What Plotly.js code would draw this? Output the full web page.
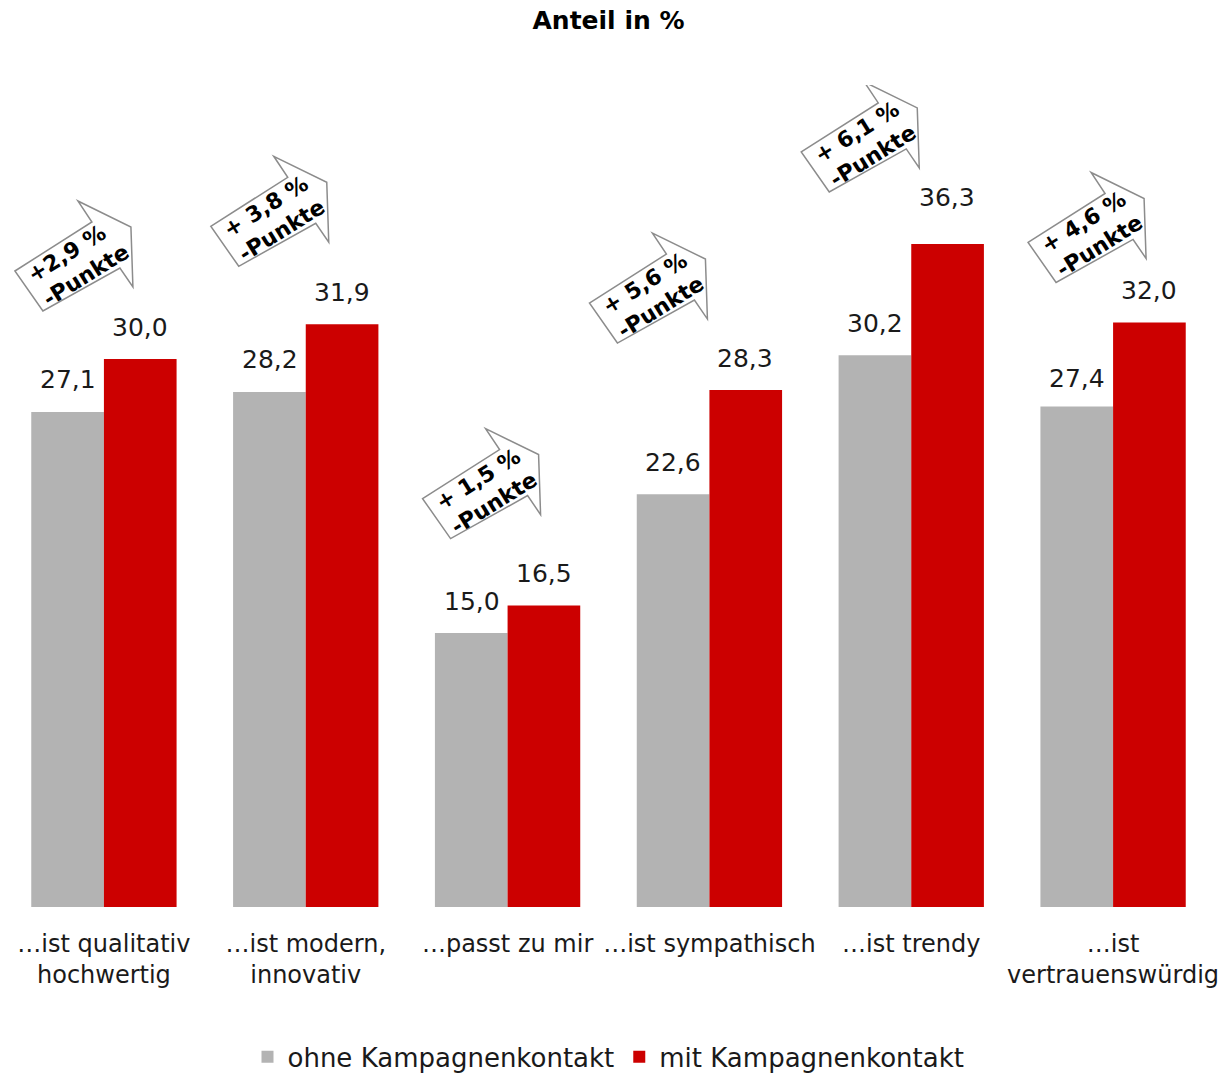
<!DOCTYPE html>
<html>
<head>
<meta charset="utf-8">
<script src="https://cdn.plot.ly/plotly-3.0.1.min.js"></script>
<style>html,body{margin:0;padding:0;background:#fff;}#chart{width:1227px;height:1074px;}</style>
</head>
<body>
<div id="chart"></div>
<script>
// ---- data ----
var categories = ["…ist qualitativ<br>hochwertig", "…ist modern,<br>innovativ", "…passt zu mir", "…ist sympathisch", "…ist trendy", "…ist<br>vertrauenswürdig"];
var ohneValues = [27.1, 28.2, 15.0, 22.6, 30.2, 27.4];
var mitValues = [30.0, 31.9, 16.5, 28.3, 36.3, 32.0];
var diffLabels = ["+2,9 %", "+ 3,8 %", "+ 1,5 %", "+ 5,6 %", "+ 6,1 %", "+ 4,6 %"];
var seriesNames = ["ohne Kampagnenkontakt", "mit Kampagnenkontakt"];

// ---- style / placement ----
var FONT = "DejaVu Sans, Verdana, sans-serif";
var GRAY = "#b3b3b3", RED = "#cc0000";
var idx = categories.map(function (c, i) { return i; });
function fmt(v) { return v.toFixed(1).replace(".", ","); }

// arrow head-barb offsets relative to top-centre of red bar (pixels, screen coords)
var arrowOffsets = [[-26, -158], [-32, -168], [-22, -177], [-57, -157], [-47, -162], [-22, -150]];
// extra lift for some value labels (pixels)
var redLift = [0, 0, 0, 0, 14, 0];
var grayLift = [0, 0, 0, 0, 0, -4];

// canonical arrow outline relative to barb point A (screen coords, y down)
var arrowPts = [[-63, 70], [14, 21], [0, 0], [53, 26], [55, 86], [42, 67], [-35, 110]];

var traces = [
  { type: "bar", name: seriesNames[0], x: idx, y: ohneValues, marker: { color: GRAY }, hoverinfo: "none" },
  { type: "bar", name: seriesNames[1], x: idx, y: mitValues, marker: { color: RED }, hoverinfo: "none" }
];

var annotations = [];
var shapes = [];
var HALF = 36;
idx.forEach(function (i) {
  annotations.push({ xref: "x", yref: "y", x: i, y: ohneValues[i], text: fmt(ohneValues[i]), showarrow: false,
    xshift: -HALF, yshift: 32 + grayLift[i], yanchor: "middle", font: { family: FONT, size: 25, color: "#1a1a1a" } });
  annotations.push({ xref: "x", yref: "y", x: i, y: mitValues[i], text: fmt(mitValues[i]), showarrow: false,
    xshift: HALF, yshift: 32 + redLift[i], yanchor: "middle", font: { family: FONT, size: 25, color: "#1a1a1a" } });

  var off = arrowOffsets[i];
  var path = arrowPts.map(function (p, k) {
    return (k === 0 ? "M" : "L") + (off[0] + p[0]) + "," + (-(off[1] + p[1]));
  }).join(" ") + " Z";
  shapes.push({ type: "path", xref: "x", yref: "y", xsizemode: "pixel", ysizemode: "pixel",
    xanchor: i, yanchor: mitValues[i], path: path, fillcolor: "#ffffff",
    line: { color: "#8c8c8c", width: 1.5 }, layer: "above" });
  annotations.push({ xref: "x", yref: "y", x: i, y: mitValues[i], text: "<b>" + diffLabels[i] + "<br>-Punkte</b>",
    showarrow: false, textangle: -32, xshift: off[0] + 1, yshift: -(off[1] + 62),
    xanchor: "center", yanchor: "middle", align: "left",
    font: { family: FONT, size: 22, color: "#000000" } });
});

var layout = {
  width: 1227, height: 1074,
  margin: { l: 3, r: 13, t: 85, b: 167, pad: 0 },
  paper_bgcolor: "#ffffff", plot_bgcolor: "#ffffff",
  font: { family: FONT, size: 25, color: "#1a1a1a" },
  title: { text: "<b>Anteil in %</b>", font: { family: FONT, size: 25, color: "#000000" },
    x: 0.5, xref: "paper", y: 0.981, yref: "container", yanchor: "middle" },
  barmode: "group", bargap: 0.28, bargroupgap: 0,
  showlegend: true,
  legend: { orientation: "h", x: 0.5, xanchor: "center", xref: "paper", y: 0.016, yref: "container", yanchor: "middle",
    font: { family: FONT, size: 26, color: "#1a1a1a" }, itemwidth: 30, tracegroupgap: 0, bgcolor: "rgba(0,0,0,0)" },
  xaxis: { type: "linear", range: [-0.5, 5.5], tickvals: idx, ticktext: categories, showgrid: false, zeroline: false,
    showline: false, ticks: "", tickangle: 0, ticklabelstandoff: 20, tickfont: { family: FONT, size: 24, color: "#1a1a1a" }, fixedrange: true },
  yaxis: { range: [0, 45], visible: false, showgrid: false, zeroline: false, fixedrange: true },
  annotations: annotations,
  shapes: shapes
};

Plotly.newPlot("chart", traces, layout, { displayModeBar: false, staticPlot: true });
</script>
</body>
</html>
